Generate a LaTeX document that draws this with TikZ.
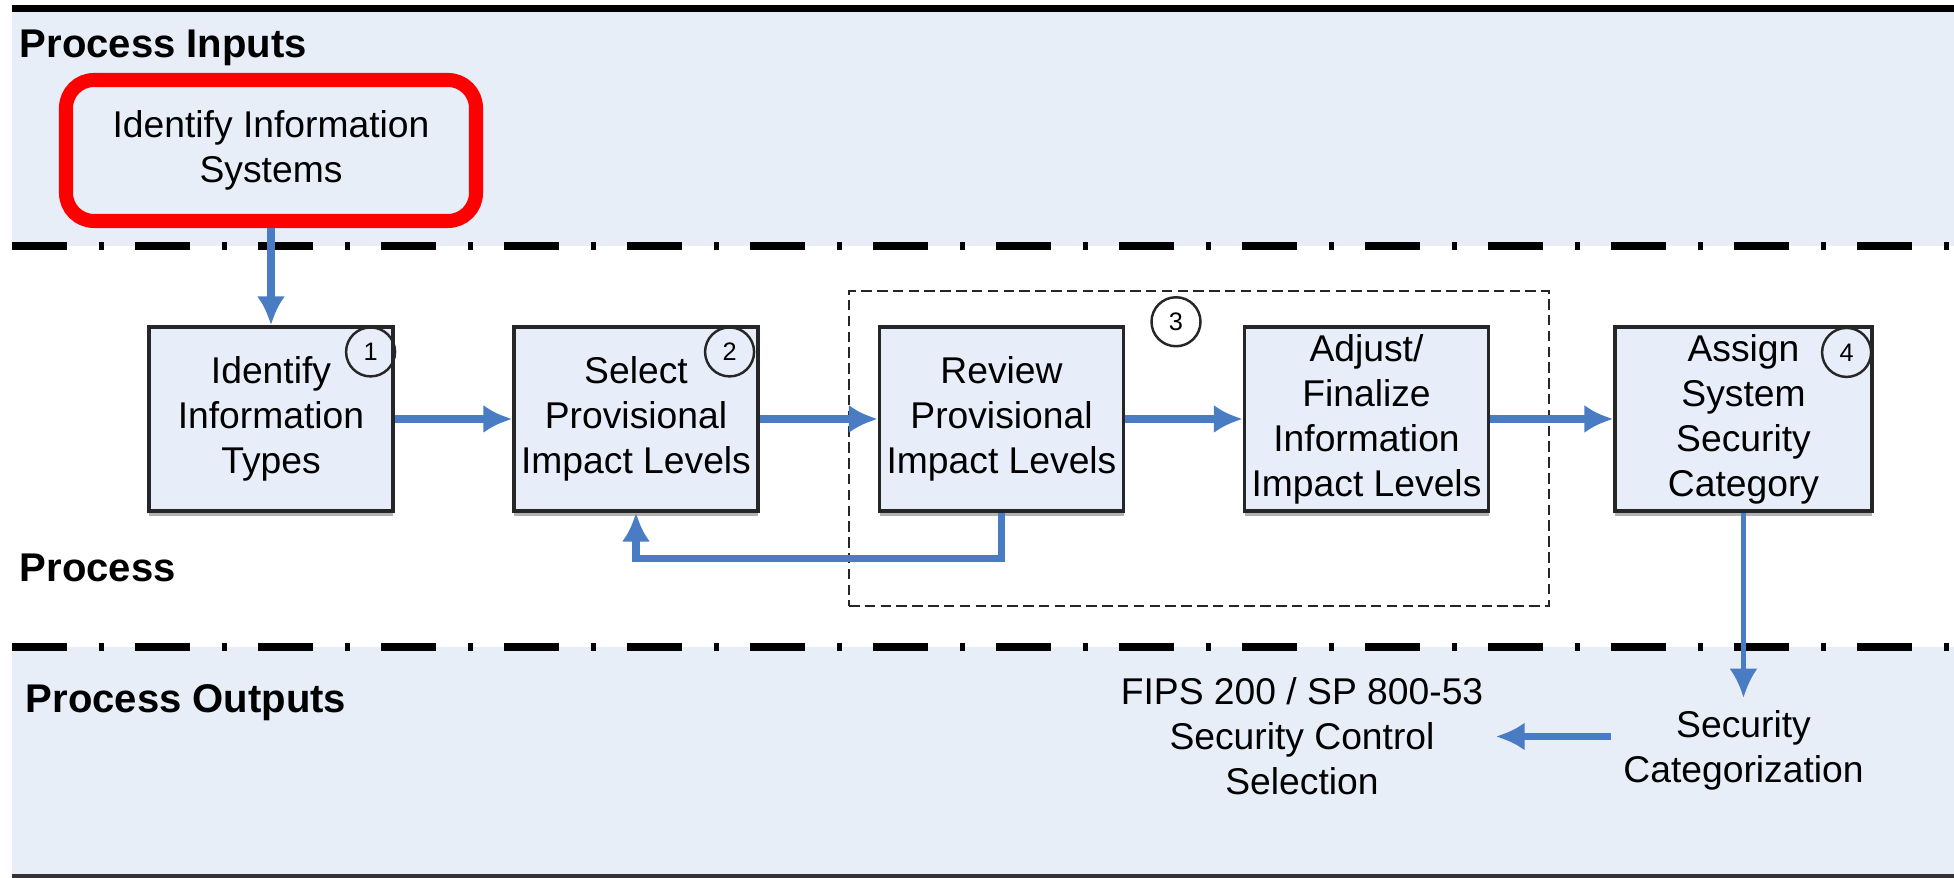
\documentclass[tikz,border=0pt]{standalone}
\usepackage{fontspec}
\setmainfont{Liberation Sans}
\usepackage{tikz}
\usetikzlibrary{arrows.meta}
\usetikzlibrary{shadows}

\definecolor{bandblue}{RGB}{231,238,248}
\definecolor{boxblue}{RGB}{232,238,249}
\definecolor{flowblue}{RGB}{74,124,196}

\begin{document}
\begin{tikzpicture}[>={Latex[length=0.29cm, width=0.28cm]},
        stepbox/.style={draw=black!85, line width=0.9pt, fill=boxblue, minimum width=2.44cm, minimum height=1.84cm, inner sep=1pt, align=center, font=\fontsize{10.6}{12.8}\selectfont, drop shadow={shadow xshift=0pt, shadow yshift=-1.3pt, fill=black!30, opacity=1}},
        num/.style={draw=black!85, circle, line width=0.7pt, minimum size=0.49cm, inner sep=0pt, font=\fontsize{7.2}{8}\selectfont},
        flow/.style={->, draw=flowblue, line width=2pt},
        lane/.style={anchor=base west, inner sep=0pt, font=\bfseries\fontsize{11.4}{13.7}\selectfont},
        divider/.style={line width=2.2pt, dash pattern=on 0.55cm off 0.32cm on 0.05cm off 0.31cm},
        plaintext/.style={align=center, font=\fontsize{10.6}{12.8}\selectfont}]
        \useasboundingbox (0,0) rectangle (19.54,8.78);

        % Bands
        \fill[bandblue] (0.12,8.66) rectangle (19.54,6.32);
        \fill[bandblue] (0.12,2.31) rectangle (19.54,0.03);
        \draw[line width=2pt] (0.12,8.69) -- (19.54,8.69);
        \draw[line width=1pt, black!80] (0.12,0.02) -- (19.54,0.02);
        \draw[divider] (0.12,6.32) -- (19.54,6.32);
        \draw[divider] (0.12,2.31) -- (19.54,2.31);

        % Lane labels
        \node[lane] (lin) at (0.19,8.20) {Process Inputs};
        \node[lane] (lpr) at (0.19,2.96) {Process};
        \node[lane] (lout) at (0.25,1.65) {Process Outputs};

        % Input
        \node (sys) at (2.71,7.275) [draw=red, line width=4pt, rounded corners=0.28cm, minimum width=4.10cm, minimum height=1.41cm, plaintext] {Identify Information\\Systems};

        % Group of step 3
        \node (grp) at (11.99,4.295) [draw=black!85, line width=0.7pt, dash pattern=on 3pt off 1.5pt, minimum width=7cm, minimum height=3.15cm] {};

        % Steps
        \node (ityp) at (2.71,4.59) [stepbox] {Identify\\Information\\Types};
        \node (sel) at (6.36,4.59) [stepbox] {Select\\Provisional\\Impact Levels};
        \node (rev) at (10.015,4.59) [stepbox] {Review\\Provisional\\Impact Levels};
        \node (adj) at (13.665,4.59) [stepbox] {Adjust/\\Finalize\\Information\\Impact Levels};
        \node (asg) at (17.435,4.59) [stepbox, minimum width=2.57cm] {Assign\\System\\Security\\Category};

        % Step numbers
        \node[num] (n1) at ([xshift=-0.24cm, yshift=-0.265cm]ityp.north east) {1};
        \node[num] (n2) at ([xshift=-0.30cm, yshift=-0.265cm]sel.north east) {2};
        \node[num] (n3) at ([xshift=-0.23cm, yshift=-0.32cm]grp.north) {3};
        \node[num] (n4) at ([xshift=-0.27cm, yshift=-0.27cm]asg.north east) {4};

        % Outputs
        \node (secat) at (17.435,1.28) [plaintext] {Security\\Categorization};
        \node (fips) at (13.02,1.415) [plaintext] {FIPS 200 / SP 800-53\\Security Control\\Selection};

        % Arrows
        \draw[flow] (sys.south) -- (ityp.north);
        \draw[flow] (ityp.east) -- (sel.west);
        \draw[flow] (sel.east) -- (rev.west);
        \draw[flow] (rev.east) -- (adj.west);
        \draw[flow] (adj.east) -- (asg.west);
        \draw[flow] (rev.south) -- ++(0,-0.46) -| (sel.south);
        \draw[flow, line width=1.3pt] (asg.south) -- (secat.north);
        \draw[flow] (secat.west |- fips.east) -- (fips.east);

    \end{tikzpicture}
\end{document}
